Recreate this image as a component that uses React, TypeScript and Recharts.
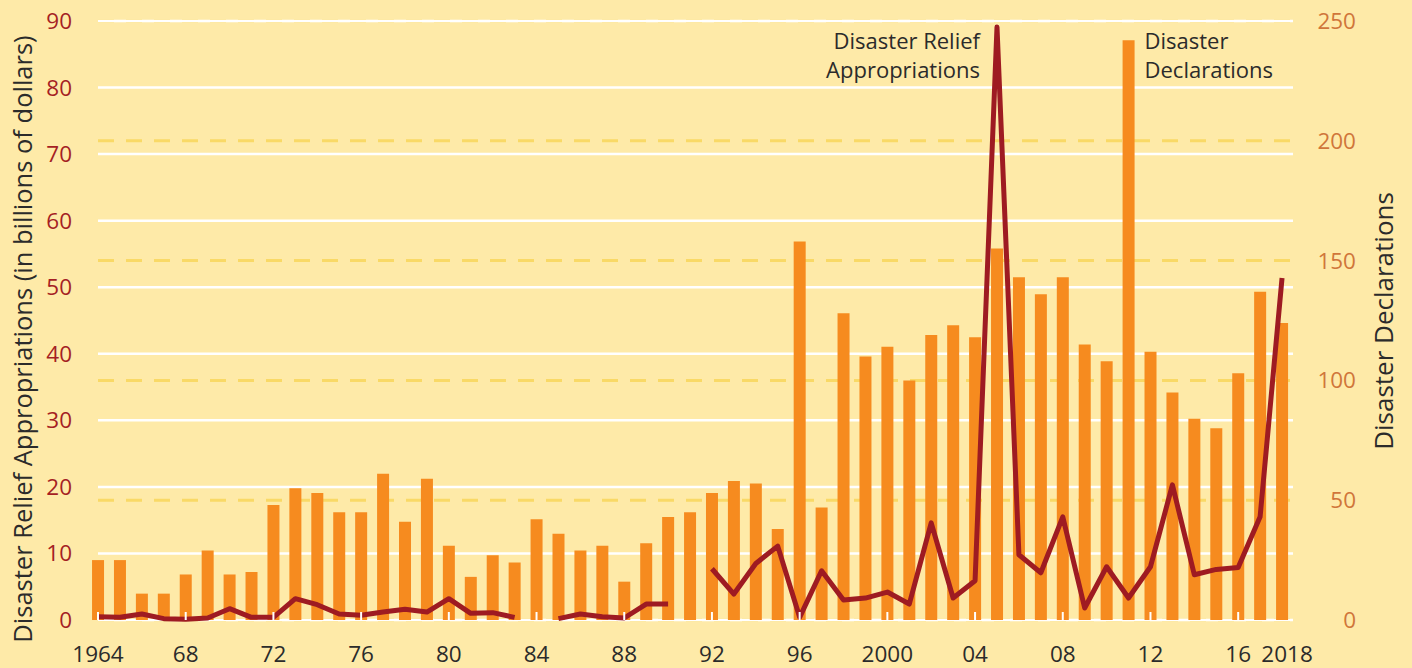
import { ComposedChart, Bar, Line, XAxis, YAxis, CartesianGrid, ReferenceDot } from 'recharts';

const years = [
    1964, 1965, 1966, 1967, 1968, 1969, 1970, 1971, 1972, 1973,
    1974, 1975, 1976, 1977, 1978, 1979, 1980, 1981, 1982, 1983,
    1984, 1985, 1986, 1987, 1988, 1989, 1990, 1991, 1992, 1993,
    1994, 1995, 1996, 1997, 1998, 1999, 2000, 2001, 2002, 2003,
    2004, 2005, 2006, 2007, 2008, 2009, 2010, 2011, 2012, 2013,
    2014, 2015, 2016, 2017, 2018
];

// disaster declarations (right axis)
const declarations = [
    25, 25, 11, 11, 19, 29, 19, 20, 48, 55,
    53, 45, 45, 61, 41, 59, 31, 18, 27, 24,
    42, 36, 29, 31, 16, 32, 43, 45, 53, 58,
    57, 38, 158, 47, 128, 110, 114, 100, 119, 123,
    118, 155, 143, 136, 143, 115, 108, 242, 112, 95,
    84, 80, 103, 137, 124
];

// appropriations in billions (left axis), null = no data
const appropriations = [
    0.5, 0.4, 0.9, 0.2, 0.1, 0.3, 1.7, 0.4, 0.4, 3.2,
    2.3, 0.9, 0.7, 1.2, 1.6, 1.2, 3.2, 1.0, 1.1, 0.4,
    null, 0.2, 0.9, 0.5, 0.3, 2.4, 2.4, null, 7.7, 3.9,
    8.5, 11.1, 0.4, 7.4, 3.0, 3.3, 4.2, 2.4, 14.6, 3.3,
    5.9, 89.1, 9.8, 7.1, 15.5, 1.8, 8.0, 3.3, 8.0, 20.3,
    6.8, 7.6, 7.9, 15.5, 51.4
];

const xTicks = [1964, 1968, 1972, 1976, 1980, 1984, 1988, 1992, 1996, 2000, 2004, 2008, 2012, 2016, 2018];
const leftTicks = [0, 10, 20, 30, 40, 50, 60, 70, 80, 90];
const rightTicks = [0, 50, 100, 150, 200, 250];

const data = years.map((year, i) => ({
    year,
    declarations: declarations[i],
    appropriations: appropriations[i]
}));

const FONT = '"Open Sans", "Noto Sans", sans-serif';

const yearLabel = (v: number) => (v === 1964 || v === 2000 || v === 2018 ? String(v) : String(v).slice(2));

const XTick = (props: any) => {
    const { x, y, payload } = props;
    const last = payload.value === 2018;
    return (
        <g>
            {!last && <line x1={x} x2={x} y1={y - 8} y2={y} stroke="#ffffff" strokeWidth={2} />}
            <text x={x + (last ? 5 : 0)} y={y + 42} textAnchor="middle" fill="#2b2b2b" fontSize={22.5} fontFamily={FONT}>
                {yearLabel(payload.value)}
            </text>
        </g>
    );
};

const annotation = (lines: string[], anchor: 'start' | 'end', dx: number) => (props: any) => {
    const { viewBox } = props;
    return (
        <text textAnchor={anchor} fill="#2b2b2b" fontSize={22} fontFamily={FONT}>
            {lines.map((l, i) => (
                <tspan key={l} x={viewBox.x + dx} y={viewBox.y + 28 + i * 29}>{l}</tspan>
            ))}
        </text>
    );
};

const App = () => {
    return (
        <div style={{ position: 'absolute', left: 0, top: 0, width: 1412, height: 668, background: '#FEEAA8', fontFamily: FONT }}>
            <ComposedChart
                width={1412}
                height={668}
                data={data}
                margin={{ top: 21, right: 0, left: 0, bottom: 0 }}
            >
                <CartesianGrid yAxisId="right" vertical={false} stroke="#F9D966" strokeWidth={3} strokeDasharray="16 12" />
                <CartesianGrid yAxisId="left" vertical={false} stroke="#ffffff" strokeWidth={2.5} />
                <YAxis
                    yAxisId="left"
                    orientation="left"
                    width={98}
                    domain={[0, 90]}
                    ticks={leftTicks}
                    axisLine={false}
                    tickLine={false}
                    tickSize={0}
                    tickMargin={26}
                    tick={{ fill: '#A51F24', fontSize: 22.5, fontFamily: FONT }}
                    label={{
                        content: (p: any) => (
                            <text transform={`translate(${p.viewBox.x + 32},339) rotate(-90)`} textAnchor="middle" fill="#2b2b2b" fontSize={25.5} fontFamily={FONT}>
                                Disaster Relief Appropriations (in billions of dollars)
                            </text>
                        )
                    }}
                />
                <YAxis
                    yAxisId="right"
                    orientation="right"
                    width={119}
                    domain={[0, 250]}
                    ticks={rightTicks}
                    axisLine={false}
                    tickLine={false}
                    tickSize={0}
                    tickMargin={63}
                    tick={{ fill: '#D0763A', fontSize: 22.5, fontFamily: FONT, textAnchor: 'end' }}
                    label={{
                        content: (p: any) => (
                            <text transform={`translate(${p.viewBox.x + 100},321) rotate(-90)`} textAnchor="middle" fill="#2b2b2b" fontSize={26} fontFamily={FONT}>
                                Disaster Declarations
                            </text>
                        )
                    }}
                />
                <Bar yAxisId="right" dataKey="declarations" fill="#F68B1F" barSize={12} isAnimationActive={false} />
                <Line
                    yAxisId="left"
                    type="linear"
                    dataKey="appropriations"
                    stroke="#9E1B22"
                    strokeWidth={5}
                    strokeLinejoin="round"
                    dot={false}
                    activeDot={false}
                    connectNulls={false}
                    isAnimationActive={false}
                />
                <XAxis
                    dataKey="year"
                    type="number"
                    domain={[1964, 2018.5]}
                    ticks={xTicks}
                    height={48}
                    axisLine={false}
                    tickLine={false}
                    tickSize={0}
                    tickMargin={0}
                    interval={0}
                    tick={<XTick />}
                />
                <ReferenceDot
                    yAxisId="left"
                    x={2005}
                    y={90}
                    r={0}
                    fill="none"
                    stroke="none"
                    label={{ content: annotation(['Disaster Relief', 'Appropriations'], 'end', -17) }}
                />
                <ReferenceDot
                    yAxisId="left"
                    x={2011}
                    y={90}
                    r={0}
                    fill="none"
                    stroke="none"
                    label={{ content: annotation(['Disaster', 'Declarations'], 'start', 16) }}
                />
            </ComposedChart>
        </div>
    );
};

export default App;
